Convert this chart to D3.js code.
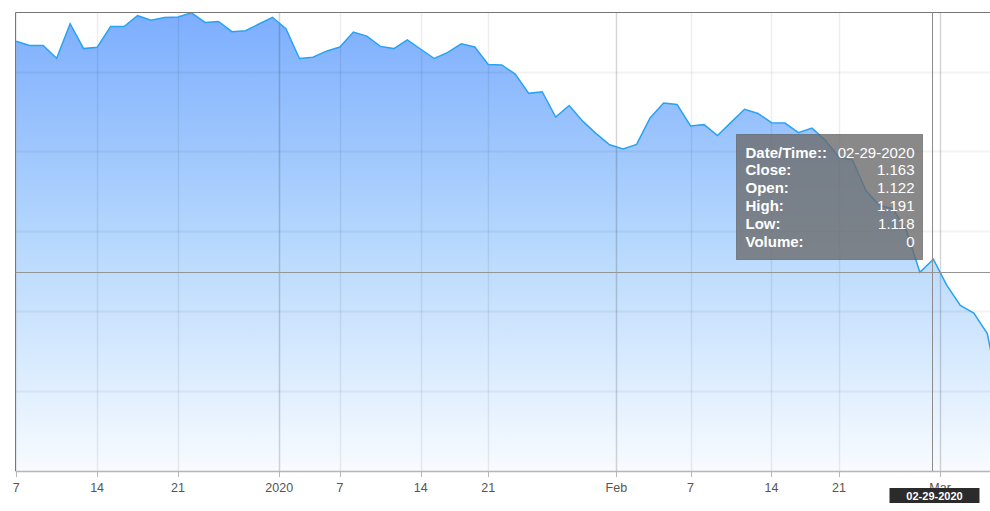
<!DOCTYPE html>
<html lang="en">
  <head>
    <meta charset="UTF-8" />
    <title>Close Price Area</title>
    <script src="https://cdn.jsdelivr.net/npm/d3@7"></script>
    <style>
      body {
        margin: 0;
        background: #ffffff;
      }
      svg {
        display: block;
        font-family: "Liberation Sans", Arial, sans-serif;
      }
      .tick-label {
        fill: #555555;
        font-size: 12.5px;
      }
    </style>
  </head>
  <body>
    <svg id="chart" width="990" height="511"></svg>

    <script>
      // daily points (Mon-Sat, holidays skipped)
      let dates = [
        "12-07-2019", "12-09-2019", "12-10-2019", "12-11-2019", "12-12-2019", "12-13-2019", "12-14-2019",
        "12-16-2019", "12-17-2019", "12-18-2019", "12-19-2019", "12-20-2019", "12-21-2019",
        "12-23-2019", "12-24-2019", "12-26-2019", "12-27-2019", "12-28-2019",
        "12-30-2019", "12-31-2019", "01-02-2020", "01-03-2020", "01-04-2020",
        "01-06-2020", "01-07-2020", "01-08-2020", "01-09-2020", "01-10-2020", "01-11-2020",
        "01-13-2020", "01-14-2020", "01-15-2020", "01-16-2020", "01-17-2020", "01-18-2020",
        "01-21-2020", "01-22-2020", "01-23-2020", "01-24-2020", "01-25-2020",
        "01-27-2020", "01-28-2020", "01-29-2020", "01-30-2020", "01-31-2020", "02-01-2020",
        "02-03-2020", "02-04-2020", "02-05-2020", "02-06-2020", "02-07-2020", "02-08-2020",
        "02-10-2020", "02-11-2020", "02-12-2020", "02-13-2020", "02-14-2020", "02-15-2020",
        "02-18-2020", "02-19-2020", "02-20-2020", "02-21-2020", "02-22-2020",
        "02-24-2020", "02-25-2020", "02-26-2020", "02-27-2020", "02-28-2020", "02-29-2020",
        "03-02-2020", "03-03-2020", "03-04-2020", "03-05-2020", "03-06-2020"
      ];

      let closes = [
        1.845, 1.832, 1.832, 1.792, 1.900, 1.822, 1.826,
        1.891, 1.891, 1.925, 1.911, 1.919, 1.921,
        1.934, 1.904, 1.907, 1.875, 1.878,
        1.899, 1.920, 1.884, 1.791, 1.795,
        1.814, 1.827, 1.874, 1.861, 1.829, 1.822,
        1.849, 1.820, 1.791, 1.810, 1.837, 1.827,
        1.772, 1.771, 1.742, 1.682, 1.687,
        1.608, 1.644, 1.595, 1.556, 1.521, 1.508,
        1.522, 1.605, 1.652, 1.647, 1.580, 1.584,
        1.550, 1.591, 1.632, 1.619, 1.590, 1.589,
        1.559, 1.573, 1.535, 1.482, 1.474,
        1.378, 1.331, 1.321, 1.253, 1.122, 1.163,
        1.081, 1.018, 0.994, 0.930, 0.720
      ];

      // hovered point shown in the tooltip
      let hoverDate = "02-29-2020";
      let tooltipLabels = ["Date/Time::", "Close:", "Open:", "High:", "Low:", "Volume:"];
      let hoverOpen = 1.122;
      let hoverHigh = 1.191;
      let hoverLow = 1.118;
      let hoverVolume = 0;

      let monthNames = ["Jan", "Feb", "Mar", "Apr", "May", "Jun", "Jul", "Aug", "Sep", "Oct", "Nov", "Dec"];
      let dayTicks = [7, 14, 21];

      let yMin = 0.5;
      let yMax = 1.935;
      let yStep = 0.25;

      let plotLeft = 15.5,
        plotTop = 12.5,
        plotRight = 990,
        plotBottom = 471;

      let svg = d3.select("#chart");

      let x = d3.scaleLinear().domain([-0.05, 72.2]).range([plotLeft, plotRight]);
      let y = d3.scaleLinear().domain([yMin, yMax]).range([plotBottom, plotTop]);

      // ticks: 7/14/21 on the point, month start between the two points
      let parse = d3.timeParse("%m-%d-%Y");
      let parsed = dates.map(parse);
      let ticks = [];
      parsed.forEach(function (d, i) {
        if (i > 0 && d.getMonth() != parsed[i - 1].getMonth()) {
          let label = d.getMonth() == 0 ? String(d.getFullYear()) : monthNames[d.getMonth()];
          ticks.push({ pos: i - 0.5, label: label, major: true });
        }
        if (dayTicks.indexOf(d.getDate()) >= 0) {
          ticks.push({ pos: i, label: String(d.getDate()), major: false });
        }
      });

      // gradient for the area
      let defs = svg.append("defs");
      let grad = defs
        .append("linearGradient")
        .attr("id", "areaFill")
        .attr("gradientUnits", "userSpaceOnUse")
        .attr("x1", 0)
        .attr("y1", plotTop)
        .attr("x2", 0)
        .attr("y2", plotBottom);
      grad.append("stop").attr("offset", "0%").attr("stop-color", "#7daefe");
      grad.append("stop").attr("offset", "50%").attr("stop-color", "#b6d8fd");
      grad.append("stop").attr("offset", "100%").attr("stop-color", "#f8fbff");

      defs
        .append("clipPath")
        .attr("id", "plotClip")
        .append("rect")
        .attr("x", plotLeft)
        .attr("y", plotTop)
        .attr("width", plotRight - plotLeft)
        .attr("height", plotBottom - plotTop);

      let plot = svg.append("g").attr("clip-path", "url(#plotClip)");

      let area = d3
        .area()
        .x(function (d, i) {
          return x(i);
        })
        .y0(plotBottom)
        .y1(function (d) {
          return y(d);
        });

      let line = d3
        .line()
        .x(function (d, i) {
          return x(i);
        })
        .y(function (d) {
          return y(d);
        });

      plot.append("path").datum(closes).attr("d", area).attr("fill", "url(#areaFill)");

      // grid on top of the fill
      plot
        .selectAll(".hgrid")
        .data(d3.range(yMin + yStep, yMax, yStep))
        .enter()
        .append("line")
        .attr("x1", plotLeft)
        .attr("x2", plotRight)
        .attr("y1", function (d) {
          return Math.round(y(d)) + 0.5;
        })
        .attr("y2", function (d) {
          return Math.round(y(d)) + 0.5;
        })
        .attr("stroke", "rgba(0,0,0,0.05)")
        .attr("stroke-width", 2);

      plot
        .selectAll(".vgrid")
        .data(ticks)
        .enter()
        .append("line")
        .attr("x1", function (d) {
          return Math.round(x(d.pos)) + 0.5;
        })
        .attr("x2", function (d) {
          return Math.round(x(d.pos)) + 0.5;
        })
        .attr("y1", plotTop)
        .attr("y2", plotBottom)
        .attr("stroke", function (d) {
          return d.major ? "rgba(0,0,0,0.16)" : "rgba(0,0,0,0.07)";
        })
        .attr("stroke-width", 1.5);

      plot
        .append("path")
        .datum(closes)
        .attr("d", line)
        .attr("fill", "none")
        .attr("stroke", "#2aa2f3")
        .attr("stroke-width", 1.5);

      // bottom axis
      svg
        .append("line")
        .attr("x1", plotLeft)
        .attr("x2", plotRight)
        .attr("y1", plotBottom + 0.5)
        .attr("y2", plotBottom + 0.5)
        .attr("stroke", "#b5b5b5")
        .attr("stroke-width", 1.5);

      svg
        .selectAll(".tickmark")
        .data(ticks)
        .enter()
        .append("line")
        .attr("x1", function (d) {
          return Math.round(x(d.pos)) + 0.5;
        })
        .attr("x2", function (d) {
          return Math.round(x(d.pos)) + 0.5;
        })
        .attr("y1", plotBottom)
        .attr("y2", plotBottom + 6)
        .attr("stroke", "#b5b5b5");

      svg
        .selectAll(".tick-label")
        .data(ticks)
        .enter()
        .append("text")
        .attr("class", "tick-label")
        .attr("x", function (d) {
          return x(d.pos);
        })
        .attr("y", plotBottom + 21)
        .attr("text-anchor", "middle")
        .text(function (d) {
          return d.label;
        });

      // frame
      svg
        .append("path")
        .attr("d", "M" + plotLeft + "," + plotBottom + "V" + plotTop + "H" + plotRight)
        .attr("fill", "none")
        .attr("stroke", "#777777");

      // crosshair at hovered point
      let hoverIndex = dates.indexOf(hoverDate);
      let cx = Math.round(x(hoverIndex)) - 0.5;
      let cy = Math.round(y(hoverOpen)) + 0.5;
      svg
        .append("line")
        .attr("x1", cx)
        .attr("x2", cx)
        .attr("y1", plotTop)
        .attr("y2", plotBottom)
        .attr("stroke", "#8c8c8c");
      svg
        .append("line")
        .attr("x1", plotLeft)
        .attr("x2", plotRight)
        .attr("y1", cy)
        .attr("y2", cy)
        .attr("stroke", "#959595");

      // tooltip
      let values = [
        hoverDate,
        closes[hoverIndex].toFixed(3),
        hoverOpen.toFixed(3),
        hoverHigh.toFixed(3),
        hoverLow.toFixed(3),
        String(hoverVolume)
      ];
      let tip = svg.append("g").attr("transform", "translate(" + (cx - 196) + ",134.5)");
      tip
        .append("rect")
        .attr("width", 186)
        .attr("height", 125)
        .attr("fill", "rgba(108,108,108,0.8)")
        .attr("stroke", "rgba(90,90,90,0.6)");
      tip
        .selectAll(".tip-label")
        .data(tooltipLabels)
        .enter()
        .append("text")
        .attr("x", 9)
        .attr("y", function (d, i) {
          return 23 + i * 17.8;
        })
        .attr("fill", "#ffffff")
        .style("font-size", "15px")
        .style("font-weight", "bold")
        .text(function (d) {
          return d;
        });
      tip
        .selectAll(".tip-value")
        .data(values)
        .enter()
        .append("text")
        .attr("x", 178)
        .attr("y", function (d, i) {
          return 23 + i * 17.8;
        })
        .attr("text-anchor", "end")
        .attr("fill", "#ffffff")
        .style("font-size", "15px")
        .text(function (d) {
          return d;
        });

      // date badge on the axis
      svg
        .append("rect")
        .attr("x", cx - 43)
        .attr("y", 488)
        .attr("width", 90)
        .attr("height", 15)
        .attr("fill", "#2b2b2b");
      svg
        .append("text")
        .attr("x", cx + 2)
        .attr("y", 499.5)
        .attr("text-anchor", "middle")
        .attr("fill", "#ffffff")
        .style("font-size", "11px")
        .style("font-weight", "bold")
        .text(hoverDate);
    </script>
  </body>
</html>
